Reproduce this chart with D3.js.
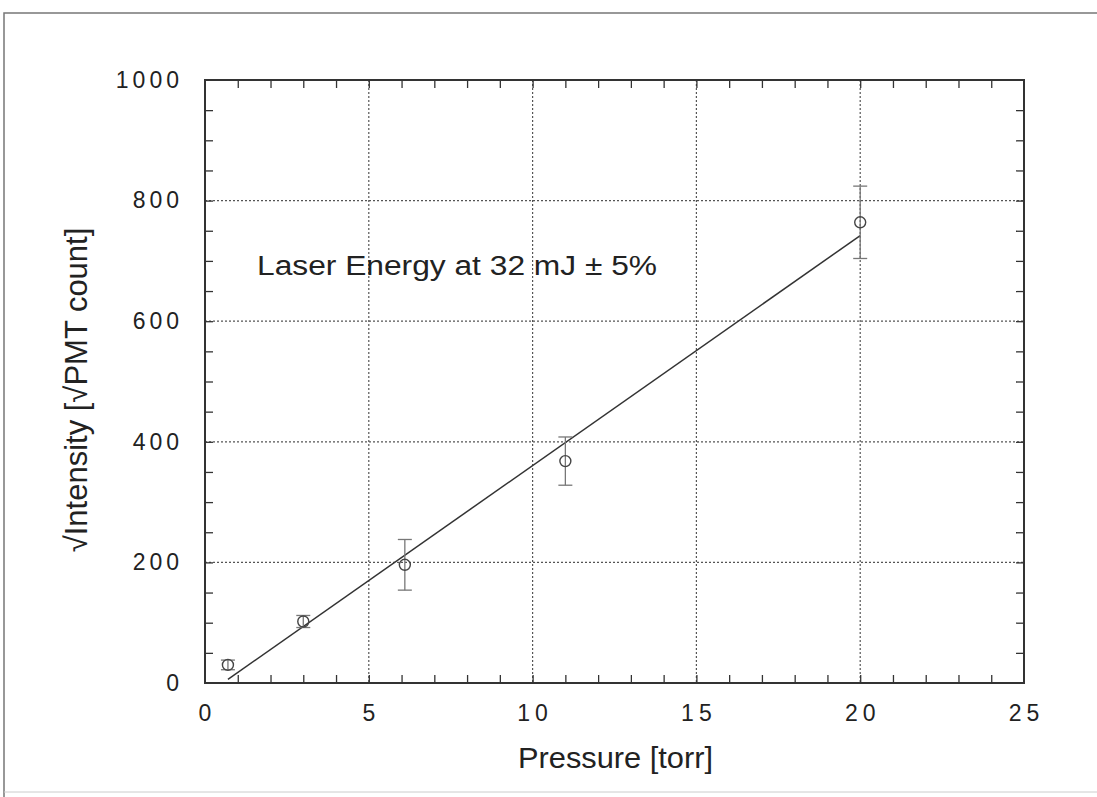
<!DOCTYPE html>
<html>
<head>
<meta charset="utf-8">
<script src="https://cdn.jsdelivr.net/npm/d3@7"></script>
<style>
    body { margin: 0; background: #fff; }
    text { font-family: "Liberation Sans", Arial, sans-serif; fill: #222; }
</style>
</head>
<body>
<div id="chart"></div>
<script>
(function () {
    "use strict";

    // measured points (pressure, sqrt intensity, error)
    var pressure = [0.7, 3.0, 6.1, 11.0, 20.0];
    var intensity = [30, 102, 196, 368, 764];
    var errors = [8, 10, 42, 40, 60];

    // linear fit drawn through the data
    var fitX = [0.7, 20.0];
    var fitY = [6, 742];

    var xTicks = [0, 5, 10, 15, 20, 25];
    var yTicks = [0, 200, 400, 600, 800, 1000];

    var W = 1097, H = 797;
    var left = 205, right = 1024, top = 80, bottom = 683;

    var svg = d3.select("#chart").append("svg")
        .attr("width", W)
        .attr("height", H);

    // scanned page border
    svg.append("path")
        .attr("d", "M4,797 L4,13 L1097,13")
        .attr("fill", "none")
        .attr("stroke", "#777")
        .attr("stroke-width", 1.5);
    svg.append("line")
        .attr("x1", 4).attr("x2", 1097)
        .attr("y1", 792).attr("y2", 792)
        .attr("stroke", "#ccc");

    var x = d3.scaleLinear().domain([0, 25]).range([left, right]);
    var y = d3.scaleLinear().domain([0, 1000]).range([bottom, top]);

    // dotted grid
    var g = svg.append("g");
    g.selectAll(".gx")
        .data(xTicks.slice(1, -1))
        .enter().append("line")
        .attr("x1", function (d) { return x(d); })
        .attr("x2", function (d) { return x(d); })
        .attr("y1", top).attr("y2", bottom)
        .attr("stroke", "#555")
        .attr("stroke-width", 1.2)
        .attr("stroke-dasharray", "2,2");
    g.selectAll(".gy")
        .data(yTicks.slice(1, -1))
        .enter().append("line")
        .attr("y1", function (d) { return y(d); })
        .attr("y2", function (d) { return y(d); })
        .attr("x1", left).attr("x2", right)
        .attr("stroke", "#555")
        .attr("stroke-width", 1.2)
        .attr("stroke-dasharray", "2,2");

    // minor ticks on all four sides
    var xMinor = d3.range(1, 25);
    var yMinor = d3.range(50, 1000, 50);
    svg.append("g").attr("transform", "translate(0," + bottom + ")")
        .call(d3.axisTop(x).tickValues(xMinor).tickSize(8).tickFormat(""))
        .call(function (s) { s.select(".domain").remove(); });
    svg.append("g").attr("transform", "translate(0," + top + ")")
        .call(d3.axisBottom(x).tickValues(xMinor).tickSize(8).tickFormat(""))
        .call(function (s) { s.select(".domain").remove(); });
    svg.append("g").attr("transform", "translate(" + left + ",0)")
        .call(d3.axisRight(y).tickValues(yMinor).tickSize(8).tickFormat(""))
        .call(function (s) { s.select(".domain").remove(); });
    svg.append("g").attr("transform", "translate(" + right + ",0)")
        .call(d3.axisLeft(y).tickValues(yMinor).tickSize(8).tickFormat(""))
        .call(function (s) { s.select(".domain").remove(); });
    svg.selectAll(".tick line").attr("stroke", "#333").attr("stroke-width", 1.3);

    // tick labels
    var xAxis = svg.append("g").attr("transform", "translate(2," + bottom + ")")
        .call(d3.axisBottom(x).tickValues(xTicks).tickSize(0).tickPadding(22)
            .tickFormat(d3.format("d")));
    xAxis.select(".domain").remove();
    xAxis.selectAll("text")
        .style("font-size", "23px")
        .style("letter-spacing", "5px")
        .attr("fill", "#222");

    var yAxis = svg.append("g").attr("transform", "translate(" + left + ",0)")
        .call(d3.axisLeft(y).tickValues(yTicks).tickSize(0).tickPadding(22)
            .tickFormat(d3.format("d")));
    yAxis.select(".domain").remove();
    yAxis.selectAll("text")
        .style("font-size", "23px")
        .style("letter-spacing", "4px")
        .attr("fill", "#222");

    // frame
    svg.append("rect")
        .attr("x", left).attr("y", top)
        .attr("width", right - left).attr("height", bottom - top)
        .attr("fill", "none")
        .attr("stroke", "#333")
        .attr("stroke-width", 2);

    // fit line
    svg.append("line")
        .attr("x1", x(fitX[0])).attr("y1", y(fitY[0]))
        .attr("x2", x(fitX[1])).attr("y2", y(fitY[1]))
        .attr("stroke", "#333")
        .attr("stroke-width", 1.5);

    // error bars
    var eb = svg.selectAll(".err")
        .data(pressure)
        .enter().append("g");
    eb.append("line")
        .attr("x1", function (d) { return x(d); })
        .attr("x2", function (d) { return x(d); })
        .attr("y1", function (d, i) { return y(intensity[i] + errors[i]); })
        .attr("y2", function (d, i) { return y(intensity[i] - errors[i]); })
        .attr("stroke", "#777")
        .attr("stroke-width", 1.3);
    [1, -1].forEach(function (s) {
        eb.append("line")
            .attr("x1", function (d) { return x(d) - 7; })
            .attr("x2", function (d) { return x(d) + 7; })
            .attr("y1", function (d, i) { return y(intensity[i] + s * errors[i]); })
            .attr("y2", function (d, i) { return y(intensity[i] + s * errors[i]); })
            .attr("stroke", "#777")
            .attr("stroke-width", 1.3);
    });

    // markers
    svg.selectAll(".pt")
        .data(pressure)
        .enter().append("circle")
        .attr("cx", function (d) { return x(d); })
        .attr("cy", function (d, i) { return y(intensity[i]); })
        .attr("r", 5.5)
        .attr("fill", "none")
        .attr("stroke", "#444")
        .attr("stroke-width", 1.4);

    // annotation
    svg.append("text")
        .attr("x", 257).attr("y", 275)
        .attr("textLength", 400)
        .attr("lengthAdjust", "spacingAndGlyphs")
        .style("font-size", "27px")
        .text("Laser Energy at 32 mJ \u00b1 5%");

    // axis titles
    svg.append("text")
        .attr("x", 518).attr("y", 768)
        .attr("textLength", 195)
        .attr("lengthAdjust", "spacingAndGlyphs")
        .style("font-size", "29px")
        .text("Pressure [torr]");

    svg.append("text")
        .attr("transform", "translate(87,390) rotate(-90)")
        .attr("text-anchor", "middle")
        .style("font-size", "31px")
        .text("\u221aIntensity [\u221aPMT count]");
})();
</script>
</body>
</html>
